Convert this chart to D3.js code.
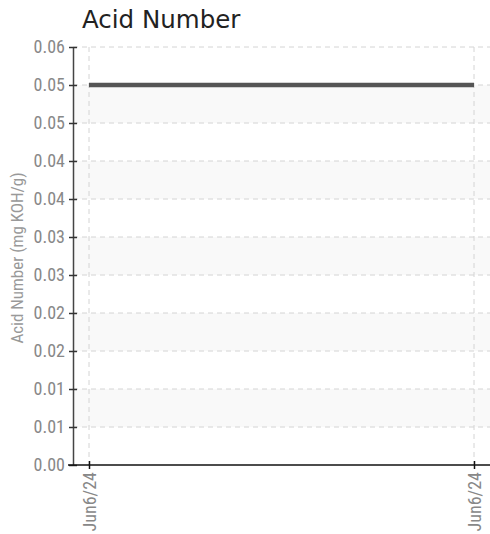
<!DOCTYPE html>
<html>
<head>
<meta charset="utf-8">
<script src="https://cdn.jsdelivr.net/npm/d3@7"></script>
<style>
  body { margin: 0; background: #fff; }
  .lbl { font-family: "Liberation Sans Narrow", "Roboto Condensed", "DejaVu Sans Condensed", sans-serif; }
</style>
</head>
<body>
<div id="chart"></div>
<script>
// data
var title = "Acid Number";
var yLabel = "Acid Number (mg KOH/g)";
var dates = ["Jun6/24", "Jun6/24"];
var acidValues = [0.05, 0.05];
var yTicks = [0, 0.005, 0.01, 0.015, 0.02, 0.025, 0.03, 0.035, 0.04, 0.045, 0.05, 0.055];
var yTickLabels = ["0.00", "0.01", "0.01", "0.02", "0.02", "0.03", "0.03", "0.04", "0.04", "0.05", "0.05", "0.06"];

var margin = { top: 47, right: 0, bottom: 69, left: 73 },
    width = 490 - margin.left - margin.right,
    height = 534 - margin.top - margin.bottom;

var svg = d3.select("#chart")
    .append("svg")
    .attr("width", 490)
    .attr("height", 534);

svg.append("text")
    .attr("x", 82)
    .attr("y", 28)
    .attr("font-family", "DejaVu Sans, sans-serif")
    .attr("font-size", 24.5)
    .attr("fill", "#222")
    .text(title);

var g = svg.append("g")
    .attr("transform", "translate(" + margin.left + "," + margin.top + ")");

var x = d3.scaleLinear()
    .domain([0, dates.length - 1])
    .range([16, 401]);

var y = d3.scaleLinear()
    .domain([0, 0.055])
    .range([height, 0]);

// alternating bands
var bands = [];
for (var i = yTicks.length - 1; i > 0; i--) {
    if ((yTicks.length - 1 - i) % 2 === 1) bands.push([yTicks[i - 1], yTicks[i]]);
}
g.selectAll(".band")
    .data(bands)
    .enter()
    .append("rect")
    .attr("x", 0)
    .attr("width", width)
    .attr("y", function (d) { return y(d[1]); })
    .attr("height", function (d) { return y(d[0]) - y(d[1]); })
    .attr("fill", "#f9f9f9");

// grid lines
g.selectAll(".hgrid")
    .data(yTicks.slice(1))
    .enter()
    .append("line")
    .attr("x1", 0)
    .attr("x2", width)
    .attr("y1", function (d) { return y(d); })
    .attr("y2", function (d) { return y(d); })
    .attr("stroke", "#d4d4d4")
    .attr("stroke-dasharray", "5,4");

g.selectAll(".vgrid")
    .data(dates)
    .enter()
    .append("line")
    .attr("x1", function (d, i) { return x(i); })
    .attr("x2", function (d, i) { return x(i); })
    .attr("y1", 0)
    .attr("y2", height)
    .attr("stroke", "#d4d4d4")
    .attr("stroke-dasharray", "5,4");

// line
var line = d3.line()
    .x(function (d, i) { return x(i); })
    .y(function (d) { return y(d); });
g.append("path")
    .datum(acidValues)
    .attr("d", line)
    .attr("fill", "none")
    .attr("stroke", "#555")
    .attr("stroke-width", 4.5);

// Y axis
var yAxis = g.append("g")
    .call(d3.axisLeft(y)
        .tickValues(yTicks)
        .tickFormat(function (d, i) { return yTickLabels[i]; })
        .tickSize(4)
        .tickSizeOuter(0)
        .tickPadding(4));
yAxis.select(".domain").attr("stroke", "#444").attr("stroke-width", 1.5);
yAxis.selectAll(".tick line").attr("x2", 4).attr("x1", -4).attr("stroke", "#333").attr("stroke-width", 1.5);
yAxis.selectAll("text")
    .attr("class", "lbl")
    .attr("font-size", 18)
    .attr("fill", "#888");

// X axis
var xAxis = g.append("g")
    .attr("transform", "translate(0," + height + ")")
    .call(d3.axisBottom(x)
        .tickValues(d3.range(dates.length))
        .tickFormat(function (d) { return dates[d]; })
        .tickSize(4)
        .tickSizeOuter(0));
xAxis.select(".domain").attr("d", "M-5,0H" + width).attr("stroke", "#111").attr("stroke-width", 1.5);
xAxis.selectAll(".tick line").attr("y1", -4).attr("y2", 4).attr("stroke", "#111").attr("stroke-width", 1.5);
xAxis.selectAll("text")
    .attr("class", "lbl")
    .attr("font-size", 18)
    .attr("fill", "#888")
    .attr("transform", "rotate(-90)")
    .attr("x", -7)
    .attr("y", 0)
    .attr("dy", "0.35em")
    .style("text-anchor", "end");

// Y label
svg.append("text")
    .attr("class", "lbl")
    .attr("transform", "translate(23," + (margin.top + height / 2 + 2) + ")rotate(-90)")
    .attr("text-anchor", "middle")
    .attr("font-size", 17)
    .attr("fill", "#999")
    .text(yLabel);
</script>
</body>
</html>
